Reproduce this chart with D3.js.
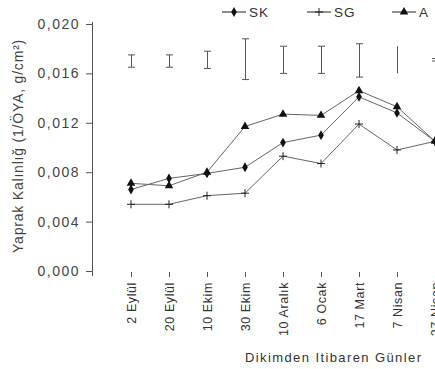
<!DOCTYPE html>
<html>
<head>
<meta charset="utf-8">
<script src="https://cdn.jsdelivr.net/npm/d3@7"></script>
<style>
    body { margin: 0; background: #fff; }
    svg { display: block; font-family: "Liberation Sans", Arial, sans-serif; }
</style>
</head>
<body>
<div id="container"></div>
<script>
var dates = ["2 Eylül", "20 Eylül", "10 Ekim", "30 Ekim", "10 Aralık", "6 Ocak", "17 Mart", "7 Nisan", "27 Nisan"];
var sk = [0.0066, 0.0075, 0.0079, 0.0084, 0.0104, 0.0110, 0.0141, 0.0128, 0.0105];
var sg = [0.0054, 0.0054, 0.0061, 0.0063, 0.0093, 0.0087, 0.0119, 0.0098, 0.0105];
var a = [0.0071, 0.0069, 0.0080, 0.0117, 0.0127, 0.0126, 0.0146, 0.0133, 0.0105];
var errLow = [0.0165, 0.0165, 0.0164, 0.0155, 0.0160, 0.0160, 0.0157, 0.0160, 0.0170];
var errHigh = [0.0175, 0.0175, 0.0178, 0.0188, 0.0182, 0.0182, 0.0184, 0.0182, 0.0172];
var yTicks = [0, 0.004, 0.008, 0.012, 0.016, 0.020];

(function() {
    "use strict";

    var width = 435, height = 369;

    var svg = d3.select("#container").append("svg")
        .attr("width", width)
        .attr("height", height);

    var x = d3.scalePoint().domain(dates).range([131, 435]),
        y = d3.scaleLinear().domain([0, 0.02]).range([271, 24]);

    var fmt = function(d) { return d3.format(".3f")(d).replace(".", ","); };

    // y axis
    var yAxis = svg.append("g")
        .attr("transform", "translate(92,0)")
        .call(d3.axisLeft(y).tickValues(yTicks).tickFormat(fmt).tickSize(6).tickSizeOuter(0));
    yAxis.select(".domain").attr("stroke", "#555").attr("d", "M0.5,22V276");
    yAxis.selectAll(".tick line").attr("stroke", "#555");
    yAxis.selectAll("text")
        .attr("x", -12)
        .attr("fill", "#444")
        .style("font-size", "14px")
        .style("letter-spacing", "1.5px");

    // x axis (ticks + rotated labels, no line)
    var xAxis = svg.append("g")
        .attr("transform", "translate(0,271)")
        .call(d3.axisBottom(x).tickSize(6));
    xAxis.select(".domain").remove();
    xAxis.selectAll(".tick line").attr("stroke", "#555").attr("y1", 1);
    xAxis.selectAll("text")
        .attr("transform", "rotate(-90)")
        .attr("x", -11)
        .attr("y", 0)
        .attr("dy", "0.35em")
        .attr("text-anchor", "end")
        .attr("fill", "#333")
        .style("font-size", "12.5px")
        .style("letter-spacing", "0.6px");

    // error bars
    var eb = svg.append("g").attr("stroke", "#555").attr("fill", "none");
    dates.forEach(function(d, i) {
        var cx = Math.round(x(d)) + 0.5;
        eb.append("line").attr("x1", cx).attr("x2", cx).attr("y1", y(errLow[i])).attr("y2", y(errHigh[i]));
        if (i !== 7) {
            eb.append("line").attr("x1", cx - 3.5).attr("x2", cx + 3.5).attr("y1", y(errLow[i])).attr("y2", y(errLow[i]));
            eb.append("line").attr("x1", cx - 3.5).attr("x2", cx + 3.5).attr("y1", y(errHigh[i])).attr("y2", y(errHigh[i]));
        }
    });

    var line = d3.line()
        .x(function(d, i) { return x(dates[i]); })
        .y(function(d) { return y(d); });

    var series = [
        { name: "SK", values: sk, symbol: d3.symbolDiamond, size: 28 },
        { name: "SG", values: sg, symbol: d3.symbolCross, size: 0 },
        { name: "A", values: a, symbol: d3.symbolTriangle, size: 32 }
    ];

    function drawMarker(g, s, cx, cy) {
        if (s.name === "SG") {
            g.append("path")
                .attr("d", "M" + (cx - 4) + "," + cy + "H" + (cx + 4) + "M" + cx + "," + (cy - 4) + "V" + (cy + 4))
                .attr("stroke", "#222")
                .attr("stroke-width", 1)
                .attr("fill", "none");
        } else {
            g.append("path")
                .attr("d", d3.symbol().type(s.symbol).size(s.size)())
                .attr("transform", "translate(" + cx + "," + cy + ")")
                .attr("fill", "#111");
        }
    }

    series.forEach(function(s) {
        svg.append("path")
            .datum(s.values)
            .attr("d", line)
            .attr("fill", "none")
            .attr("stroke", "#666")
            .attr("stroke-width", 1);
    });

    series.forEach(function(s) {
        var g = svg.append("g");
        s.values.forEach(function(v, i) {
            drawMarker(g, s, x(dates[i]), y(v));
        });
    });

    // legend
    var legendX = [222, 307, 392];
    series.forEach(function(s, i) {
        var g = svg.append("g");
        var lx = legendX[i], ly = 12;
        g.append("line")
            .attr("x1", lx).attr("x2", lx + 24)
            .attr("y1", ly).attr("y2", ly)
            .attr("stroke", "#222");
        drawMarker(g, s, lx + 12, ly);
        g.append("text")
            .attr("x", lx + 27)
            .attr("y", ly + 5)
            .attr("fill", "#333")
            .style("font-size", "13.5px")
            .style("letter-spacing", "1px")
            .text(s.name);
    });

    // axis titles
    svg.append("text")
        .attr("transform", "translate(23,146) rotate(-90)")
        .attr("text-anchor", "middle")
        .attr("fill", "#444")
        .style("font-size", "14px")
        .style("letter-spacing", "0.8px")
        .text("Yaprak Kalınlığ (1/ÖYA, g/cm²)");

    svg.append("text")
        .attr("x", 245)
        .attr("y", 362)
        .attr("fill", "#333")
        .style("font-size", "13px")
        .style("letter-spacing", "1.4px")
        .text("Dikimden Itibaren Günler");
})();
</script>
</body>
</html>
